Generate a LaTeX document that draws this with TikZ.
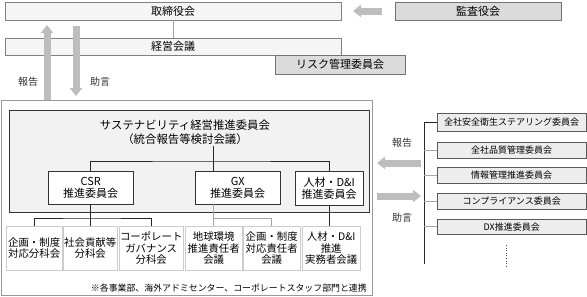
\documentclass[tikz,border=0pt]{standalone}
\usepackage{fontspec}
\setmainfont{Noto Sans CJK JP}
\usetikzlibrary{arrows.meta}
\definecolor{arrowgrey}{HTML}{BDBDBD}
\begin{document}
\begin{tikzpicture}[x=1pt,y=-1pt,
  base/.style={inner sep=0pt, anchor=north west, align=center},
  topbox/.style={base, draw=black!50, fill=black!4, font=\fontsize{11}{12}\selectfont},
  greybox/.style={base, draw=black!55, fill=black!14, font=\fontsize{11}{12}\selectfont},
  outerbox/.style={base, draw=black!40, fill=white},
  innerbox/.style={base, draw=black!80, fill=black!5},
  midbox/.style={base, draw=black!80, fill=white, font=\fontsize{11}{12.5}\selectfont},
  lowbox/.style={base, draw=black!20, fill=white, font=\fontsize{10.4}{11.3}\selectfont},
  rbox/.style={base, draw=black!65, fill=black!7, font=\fontsize{9}{10}\selectfont},
  dline/.style={draw=black!85, line width=0.6pt},
  gline/.style={draw=black!35, line width=0.6pt},
  bigarrow/.style={draw=arrowgrey, line width=7pt, -{Triangle[width=12pt,length=8pt]}},
  lbl/.style={font=\fontsize{10}{12}\selectfont, inner sep=0pt, text=black!80}
]
\useasboundingbox (0,0) rectangle (587,297);

% top
\node[topbox, minimum width=336pt, minimum height=18pt] (board) at (5,2) {取締役会};
\node[greybox, minimum width=166pt, minimum height=18pt] (kansa) at (395,2) {監査役会};
\node[topbox, minimum width=336pt, minimum height=17pt] (keiei) at (5,38) {経営会議};
\node[greybox, minimum width=130pt, minimum height=19pt] (risk) at (275,55) {リスク管理委員会};
\draw[gline] (board.south) -- (keiei.north);

\coordinate (a1s) at (382,11);
\coordinate (a1e) at (353,11);
\draw[bigarrow] (a1s) -- (a1e);

% outer frame
\node[outerbox, minimum width=371pt, minimum height=195pt] (outer) at (1,100) {};
\node[innerbox, minimum width=360pt, minimum height=102pt] (inner) at (9,110) {};

\coordinate (upS) at (47,100);
\coordinate (upE) at (47,25);
\coordinate (dnS) at (76,26);
\coordinate (dnE) at (76,96);
\draw[bigarrow] (upS) -- (upE);
\draw[bigarrow] (dnS) -- (dnE);
\node[lbl] (lr1) at (28,82) {報告};
\node[lbl] (la1) at (100,82) {助言};

\node[inner sep=1pt, align=center, font=\fontsize{11.4}{14.5}\selectfont] (title) at (185,132) {サステナビリティ経営推進委員会\\（統合報告等検討会議）};

\node[midbox, minimum width=85pt, minimum height=33pt] (csr) at (48,171) {CSR\\推進委員会};
\node[midbox, minimum width=85pt, minimum height=33pt] (gx) at (195,171) {GX\\推進委員会};
\node[midbox, minimum width=68pt, minimum height=34pt] (jin) at (295,171) {人材・D\&I\\推進委員会};

\node[lowbox, minimum width=56pt, minimum height=44pt] (b1) at (6,226) {企画・制度\\対応分科会};
\node[lowbox, minimum width=54pt, minimum height=44pt] (b2) at (63,226) {社会貢献等\\分科会};
\node[lowbox, minimum width=64pt, minimum height=44pt] (b3) at (119,226) {コーポレート\\ガバナンス\\分科会};
\node[lowbox, minimum width=57pt, minimum height=44pt] (b4) at (185,226) {地球環境\\推進責任者\\会議};
\node[lowbox, minimum width=57pt, minimum height=44pt] (b5) at (243,226) {企画・制度\\対応責任者\\会議};
\node[lowbox, minimum width=58pt, minimum height=44pt] (b6) at (302,226) {人材・D\&I\\推進\\実務者会議};

\node[inner sep=0pt, anchor=east, font=\fontsize{8.9}{10}\selectfont] (note) at (367,288) {※各事業部、海外アドミセンター、コーポレートスタッフ部門と連携};

% connectors inside
\coordinate (hub) at (213,161);
\draw[dline] (b4.north |- title.south) -- (b4.north |- gx.north);
\draw[dline] (csr.north) |- (hub) -| (jin.north);
\coordinate (cj) at (91,218);
\draw[dline] (csr.south) -- (csr.south |- b2.north);
\draw[dline] (b1.north) |- (cj) -| (b3.north);
\coordinate (gj) at (213,218);
\draw[gline] (b4.north |- gx.south) -- (b4.north);
\draw[gline] (gj) -| (b5.north);
\draw[dline] (jin.south) -- (jin.south |- b6.north);

% right side committees
\node[rbox, minimum width=149pt, minimum height=18pt] (r1) at (437,113) {全社安全衛生ステアリング委員会};
\node[rbox, minimum width=149pt, minimum height=16pt] (r2) at (437,142) {全社品質管理委員会};
\node[rbox, minimum width=149pt, minimum height=16pt] (r3) at (437,167) {情報管理推進委員会};
\node[rbox, minimum width=149pt, minimum height=16pt] (r4) at (437,193) {コンプライアンス委員会};
\node[rbox, minimum width=149pt, minimum height=15pt] (r5) at (437,219) {DX推進委員会};
\coordinate (rbot) at (424,264);
\draw[dline] (r1.west) -| (rbot);
\draw[gline] (r2.west) -- (r2.west -| rbot);
\draw[gline] (r3.west) -- (r3.west -| rbot);
\draw[gline] (r4.west) -- (r4.west -| rbot);
\draw[gline] (r5.west) -- (r5.west -| rbot);
\coordinate (dt1) at (506,245);
\coordinate (dt2) at (506,267);
\draw[black!70, line width=0.8pt, dash pattern=on 1pt off 1.6pt] (dt1) -- (dt2);

\coordinate (ra1s) at (421,163);
\coordinate (ra1e) at (377,163);
\coordinate (ra2s) at (377,196);
\coordinate (ra2e) at (421,196);
\draw[bigarrow] (ra1s) -- (ra1e);
\draw[bigarrow] (ra2s) -- (ra2e);
\node[lbl] (lr2) at (402,143) {報告};
\node[lbl] (la2) at (402,218) {助言};
\end{tikzpicture}
\end{document}
